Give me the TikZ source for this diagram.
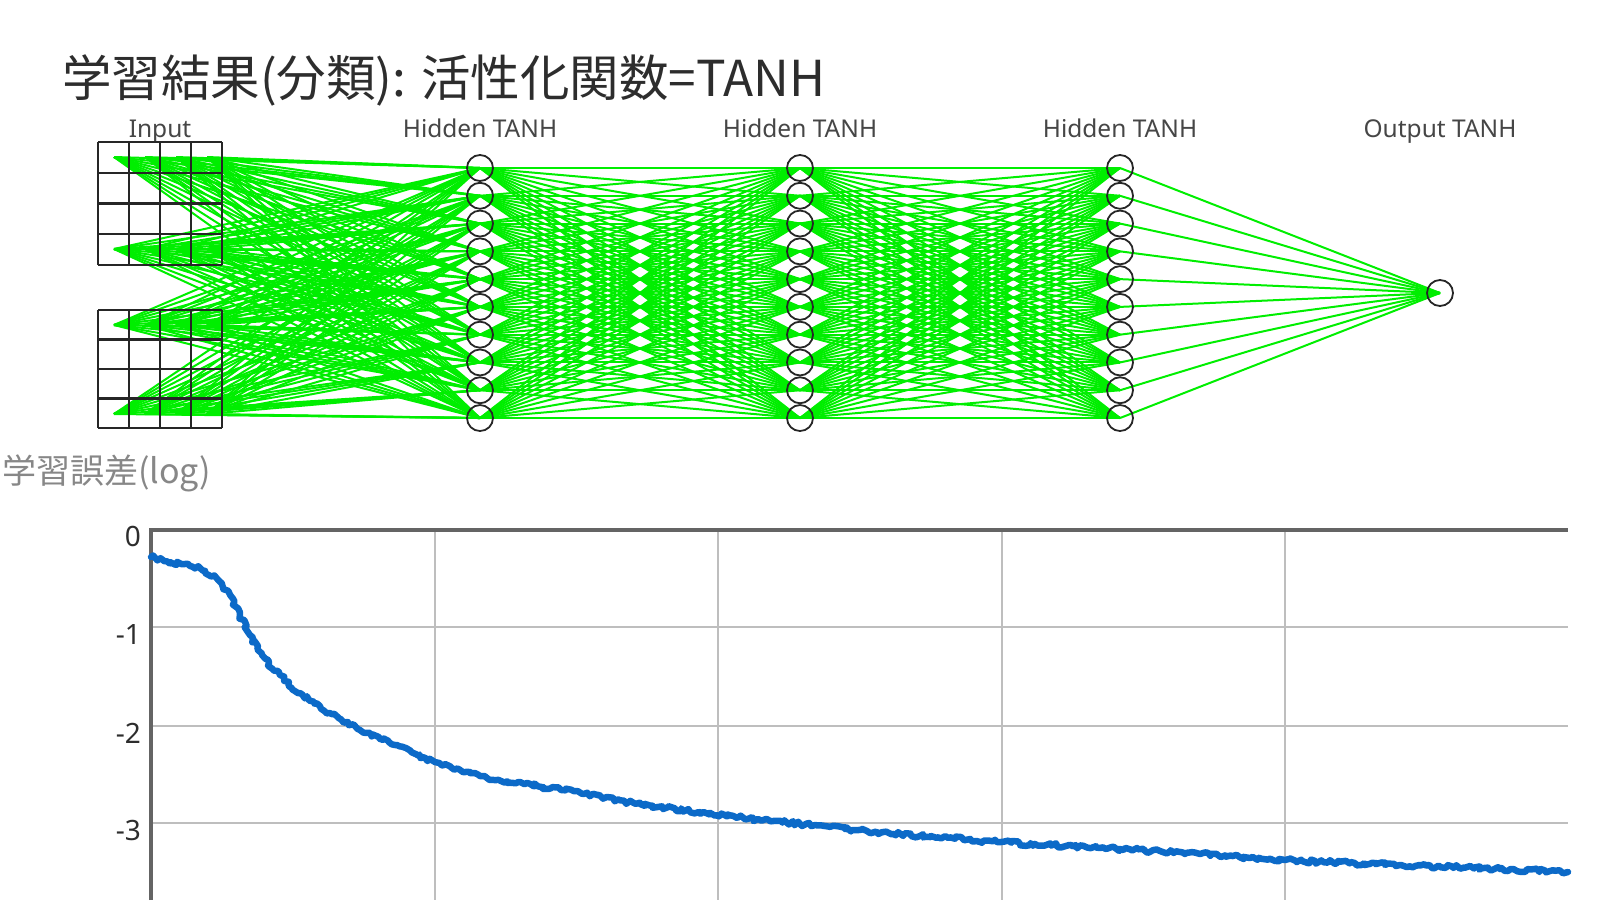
\documentclass[tikz,border=0pt]{standalone}
\usepackage{fontspec}
\setmainfont{Noto Sans}
\newfontfamily\cjk{Noto Sans CJK JP}
\usetikzlibrary{decorations.pathmorphing}
\definecolor{netgreen}{RGB}{0,238,0}
\definecolor{curveblue}{RGB}{12,106,200}
\definecolor{axisgray}{RGB}{100,100,100}
\definecolor{gridgray}{RGB}{190,190,190}
\definecolor{titlegray}{RGB}{45,45,45}
\definecolor{labelgray}{RGB}{70,70,70}
\definecolor{ylabgray}{RGB}{135,135,135}
\pgfdeclarelayer{background}
\pgfsetlayers{background,main}
\begin{document}
\begin{tikzpicture}[x=1pt,y=-1pt,
  conn/.style={netgreen, line width=2pt},
  neuron/.style={circle, draw=black!85, line width=1.8pt, minimum size=26pt, inner sep=0pt},
  layerlabel/.style={font=\fontsize{24.5}{27}\selectfont, text=labelgray, anchor=base, inner sep=0pt},
  gridline/.style={black!85, line width=2.2pt},
  plotgrid/.style={gridgray, line width=2pt},
  plotaxis/.style={axisgray, line width=4.5pt},
  ticklabel/.style={font=\fontsize{28}{30}\selectfont, text=titlegray, anchor=east, inner sep=0pt},
  errcurve/.style={curveblue, line width=6.5pt, line join=round, line cap=round}]
\useasboundingbox (0,0) rectangle (1600,900);

% title
\node[anchor=west, inner sep=0pt, text=titlegray, font=\cjk\fontsize{49.5}{58}\selectfont] (title) at (62,80) {学習結果(分類): 活性化関数=TANH};

% layer labels
\node[layerlabel] (linput) at (160,137) {Input};
\node[layerlabel] (lh1) at (480,137) {Hidden TANH};
\node[layerlabel] (lh2) at (800,137) {Hidden TANH};
\node[layerlabel] (lh3) at (1120,137) {Hidden TANH};
\node[layerlabel] (lout) at (1440,137) {Output TANH};

% input points
\foreach \c [count=\ci] in {114,145,176,207} {
  \coordinate (in-1-\ci) at (\c,157);
  \coordinate (in-2-\ci) at (\c,249);
  \coordinate (in-3-\ci) at (\c,325);
  \coordinate (in-4-\ci) at (\c,414);
}

% neurons
\foreach \L/\x in {1/480,2/800,3/1120} {
  \foreach \k in {1,...,10} {
    \node[neuron] (h\L-\k) at (\x,{168+(\k-1)*27.78}) {};
  }
}
\node[neuron] (out) at (1440,293) {};

% connections
\begin{pgfonlayer}{background}
  \foreach \r in {1,...,4} {
    \foreach \c in {1,...,4} {
      \foreach \k in {1,...,10} {
        \draw[conn] (in-\r-\c) -- (h1-\k.center);
      }
    }
  }
  \foreach \a/\b in {1/2,2/3} {
    \foreach \i in {1,...,10} {
      \foreach \j in {1,...,10} {
        \draw[conn] (h\a-\i.center) -- (h\b-\j.center);
      }
    }
  }
  \foreach \i in {1,...,10} {
    \draw[conn] (h3-\i.center) -- (out.center);
  }
\end{pgfonlayer}

% input grids
\foreach \yt/\yb in {142/265, 310/428} {
  \foreach \k in {0,...,4} {
    \draw[gridline] ({98+\k*31},\yt) -- ({98+\k*31},\yb);
    \draw[gridline] (98,{\yt+\k*(\yb-\yt)/4}) -- (222,{\yt+\k*(\yb-\yt)/4});
  }
}

% error plot
\node[anchor=west, inner sep=0pt, text=ylabgray, font=\cjk\fontsize{34}{40}\selectfont] (ylab) at (2,473) {学習誤差(log)};
\foreach \yy in {627,726,823} {
  \draw[plotgrid] (151,\yy) -- (1568,\yy);
}
\foreach \xx in {434.5,718,1001.5,1285} {
  \draw[plotgrid] (\xx,530) -- (\xx,900);
}
\draw[plotaxis] (151,900) -- (151,530) -- (1568,530);
\node[ticklabel] (t0) at (141,536) {0};
\node[ticklabel] (t1) at (141,634) {-1};
\node[ticklabel] (t2) at (141,733) {-2};
\node[ticklabel] (t3) at (141,830) {-3};

\draw[errcurve, decorate, decoration={random steps, segment length=3pt, amplitude=2.2pt}]
  plot[smooth, tension=0.55] coordinates {(151,557) (170,562) (190,566) (205,571) (218,580) (230,595) (240,615) (250,635) (262,655) (280,675) (300,693) (330,713) (360,730) (395,745) (435,762) (480,776) (561,790) (640,804) (717,815) (800,824) (867,831) (1001,842) (1100,848) (1200,854) (1285,860) (1400,865) (1500,869) (1568,872)};
\end{tikzpicture}
\end{document}
